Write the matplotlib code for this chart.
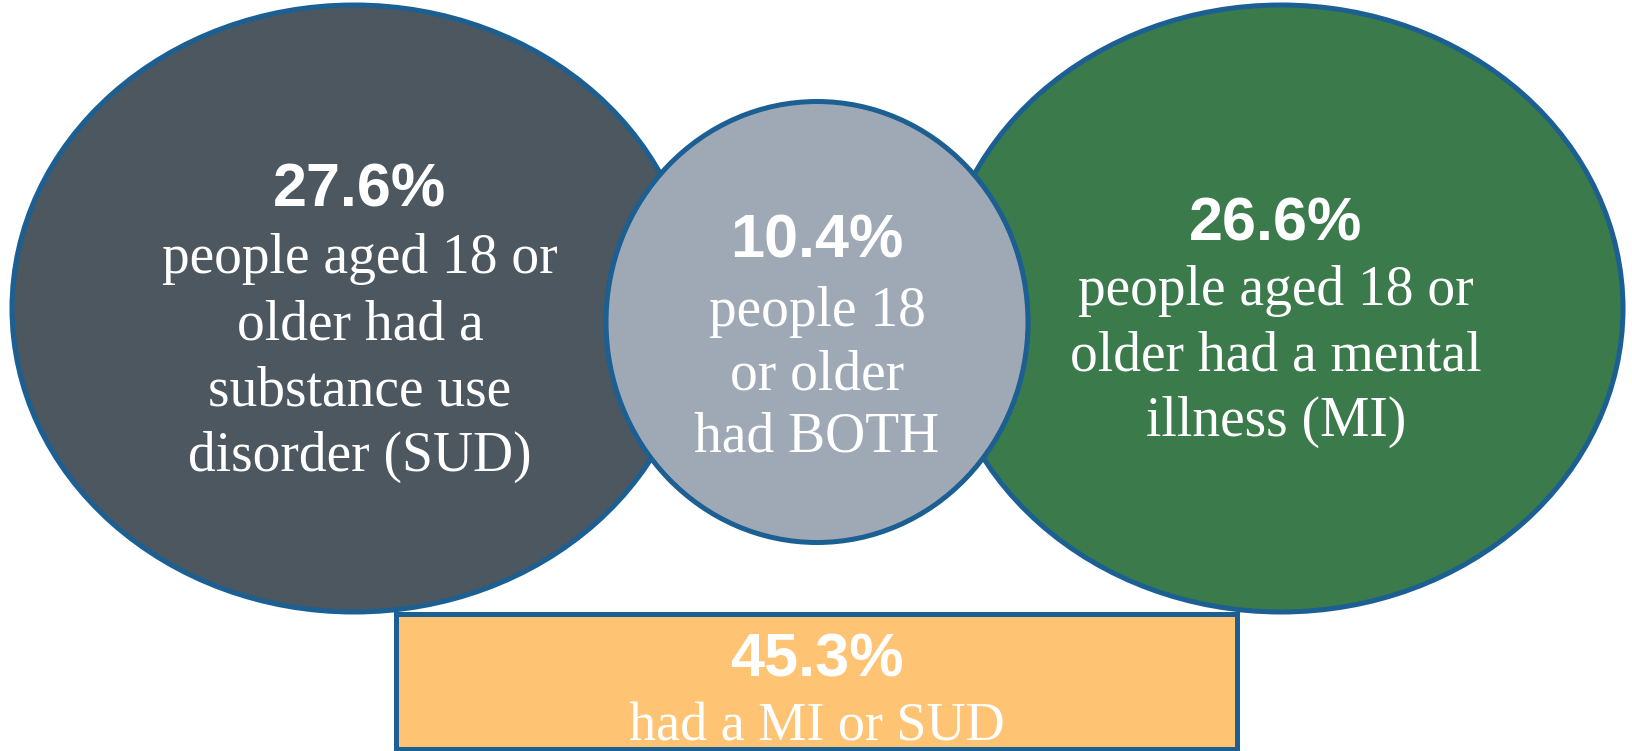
import matplotlib
matplotlib.use("Agg")
import matplotlib.pyplot as plt
from matplotlib.patches import Ellipse, Rectangle

# ---- data ----
groups = ["SUD", "BOTH", "MI", "MI or SUD"]
percentages = [27.6, 10.4, 26.6, 45.3]
descriptions = [
    "people aged 18 or\nolder had a\nsubstance use\ndisorder (SUD)",
    "people 18\nor older\nhad BOTH",
    "people aged 18 or\nolder had a mental\nillness (MI)",
    "had a MI or SUD",
]
fill_colors = ["#4C5760", "#9FA9B5", "#3A7A4B", "#FFC374"]
edge_color = "#1B5F93"

W, H = 1633, 751
fig = plt.figure(figsize=(W / 100, H / 100), dpi=100)
ax = fig.add_axes([0, 0, 1, 1])
ax.set_xlim(0, W)
ax.set_ylim(H, 0)
ax.axis("off")

# layout (pixel units in the axes)
shapes = [
    ("ellipse", 354, 308.5, 684, 607),
    ("ellipse", 817, 322, 422, 441),
    ("ellipse", 1281, 308.5, 684, 607),
    ("rect", 396, 614, 841, 135),
]
order = [0, 2, 1, 3]
for i in order:
    kind, x, y, w, h = shapes[i]
    if kind == "ellipse":
        p = Ellipse((x, y), w, h, facecolor=fill_colors[i], edgecolor=edge_color,
                    linewidth=3.6, zorder=1 + order.index(i))
    else:
        p = Rectangle((x, y), w, h, facecolor=fill_colors[i], edgecolor=edge_color,
                      linewidth=3.6, zorder=1 + order.index(i))
    ax.add_patch(p)

# text positions: (x, y of percentage, y of first line, line step)
text_pos = [
    (360, 191, 259, 66.0),
    (817, 242, 312, 63.0),
    (1276, 225, 291, 65.5),
    (817, 661, 727, 62.0),
]
desc_sizes = [40, 40, 40, 39]
for i in range(4):
    x, yp, y0, step = text_pos[i]
    ax.text(x, yp, f"{percentages[i]:.1f}%", ha="center", va="center",
            fontsize=44, fontweight="bold", color="white",
            family=["Liberation Sans", "DejaVu Sans"], zorder=10)
    for k, line in enumerate(descriptions[i].split("\n")):
        ax.text(x, y0 + k * step, line, ha="center", va="center",
                fontsize=desc_sizes[i], color="white",
                family=["Liberation Serif", "DejaVu Serif"], zorder=10)

fig.savefig("out.png", dpi=100, facecolor="white")
